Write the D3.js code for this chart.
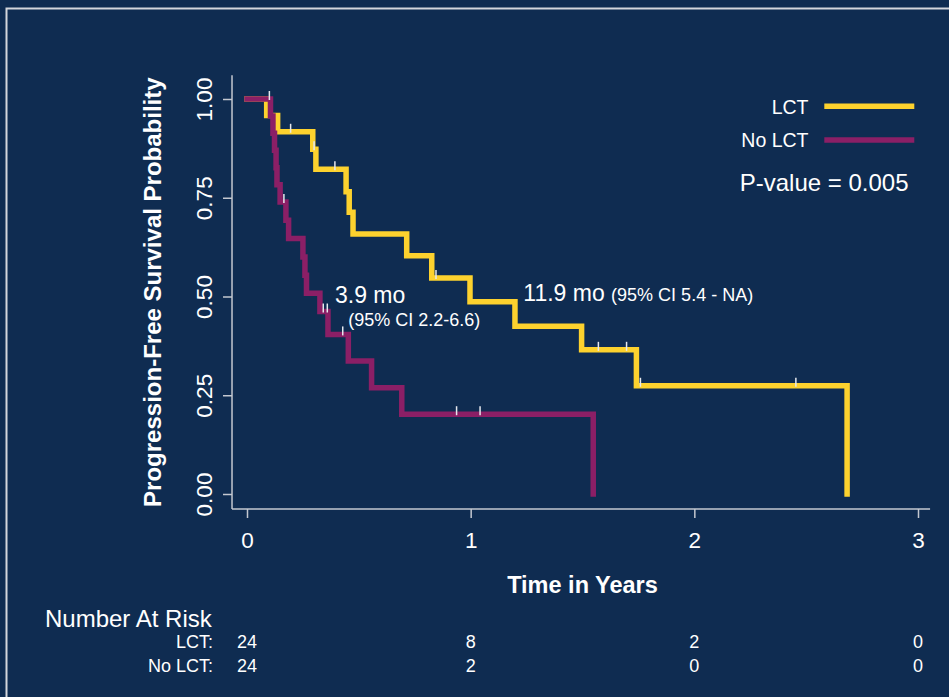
<!DOCTYPE html>
<html>
<head>
<meta charset="utf-8">
<script src="https://cdn.jsdelivr.net/npm/d3@7"></script>
<style>
  html, body { margin: 0; padding: 0; background: #0f2c51; }
  svg { display: block; }
  text { font-family: "Liberation Sans", Arial, Helvetica, sans-serif; fill: #ffffff; }
</style>
</head>
<body>
<svg id="chart" width="949" height="697"></svg>
<script>
// ---------------- DATA ----------------
const seriesNames = ["LCT", "No LCT"];

// LCT (yellow) Kaplan-Meier steps (time in years, survival probability)
const lctTimes = [0, 0.088, 0.137, 0.294, 0.308, 0.443, 0.457, 0.474, 0.714, 0.826, 0.997, 1.198, 1.496, 1.741, 2.683];
const lctSurv  = [1, 0.958, 0.917, 0.873, 0.822, 0.765, 0.713, 0.658, 0.603, 0.547, 0.487, 0.425, 0.365, 0.274, 0];
const lctCensorTimes = [0.195, 0.300, 0.393, 0.845, 1.571, 1.697, 1.759, 2.454];

// No LCT (purple)
const noLctTimes = [0, 0.105, 0.116, 0.123, 0.130, 0.134, 0.148, 0.174, 0.186, 0.250, 0.259, 0.266, 0.326, 0.362, 0.453, 0.557, 0.692, 1.548];
const noLctSurv  = [1, 0.957, 0.913, 0.870, 0.826, 0.783, 0.739, 0.693, 0.647, 0.600, 0.554, 0.508, 0.462, 0.404, 0.337, 0.269, 0.202, 0];
const noLctCensorTimes = [0.100, 0.165, 0.341, 0.359, 0.428, 0.937, 1.042];

// axes
const xTicks = [0, 1, 2, 3];
const yTicks = [0, 0.25, 0.5, 0.75, 1];

// number at risk
const riskTimes = [0, 1, 2, 3];
const riskLCT = [24, 8, 2, 0];
const riskNoLCT = [24, 2, 0, 0];

// text
const yLabel = "Progression-Free Survival Probability";
const xLabel = "Time in Years";
const pValueText = "P-value = 0.005";
const lctMedian = "11.9 mo";
const lctCI = "(95% CI 5.4 - NA)";
const noLctMedian = "3.9 mo";
const noLctCI = "(95% CI 2.2-6.6)";

// ---------------- DRAW ----------------
const colors = { "LCT": "#fdd22e", "No LCT": "#8b1f66" };
const axisColor = "#c4c8d0";

const svg = d3.select("#chart");

// background + frame
svg.append("rect").attr("x", 0).attr("y", 0).attr("width", 949).attr("height", 697).attr("fill", "#0f2c51");
svg.append("rect").attr("x", 6.5).attr("y", 8.5).attr("width", 1200).attr("height", 1200)
  .attr("fill", "none").attr("stroke", "#d4d6dc").attr("stroke-width", 2);

const x = d3.scaleLinear().domain([0, 3]).range([247, 918]);
const y = d3.scaleLinear().domain([0, 1]).range([494, 99]);

// axis lines (L shape)
const g = svg.append("g");
g.append("line").attr("x1", x(-0.067)).attr("x2", x(-0.067))
  .attr("y1", y(1.06)).attr("y2", y(-0.038))
  .attr("stroke", axisColor).attr("stroke-width", 1.5);
g.append("line").attr("x1", x(-0.067)).attr("x2", x(3.054))
  .attr("y1", y(-0.038)).attr("y2", y(-0.038))
  .attr("stroke", axisColor).attr("stroke-width", 1.5);

// y axis
const yAxis = d3.axisLeft(y).tickValues(yTicks).tickFormat(d3.format(".2f")).tickSize(9).tickPadding(0);
const yg = svg.append("g").attr("transform", `translate(${x(-0.067)},0)`).call(yAxis);
yg.select(".domain").remove();
yg.selectAll(".tick line").attr("stroke", axisColor).attr("stroke-width", 1.5);
yg.selectAll(".tick text")
  .attr("x", null).attr("dy", null)
  .attr("text-anchor", "middle")
  .attr("transform", "translate(-20,0) rotate(-90)")
  .style("font-size", "22.5px")
  .style("font-family", "'Liberation Sans', Arial, sans-serif")
  .attr("fill", "#ffffff");

// x axis
const xAxis = d3.axisBottom(x).tickValues(xTicks).tickFormat(d3.format("d")).tickSize(9).tickPadding(0);
const xg = svg.append("g").attr("transform", `translate(0,${y(-0.038)})`).call(xAxis);
xg.select(".domain").remove();
xg.selectAll(".tick line").attr("stroke", axisColor).attr("stroke-width", 1.5);
xg.selectAll(".tick text")
  .attr("y", 38.5).attr("dy", null)
  .style("font-size", "22.5px")
  .style("font-family", "'Liberation Sans', Arial, sans-serif")
  .attr("fill", "#ffffff");

// axis titles
svg.append("text")
  .attr("transform", `translate(160.5,${(y(1.06) + y(-0.038)) / 2}) rotate(-90)`)
  .attr("text-anchor", "middle")
  .style("font-size", "24px").style("font-weight", "bold")
  .text(yLabel);

svg.append("text")
  .attr("x", (x(0) + x(3)) / 2).attr("y", 593)
  .attr("text-anchor", "middle")
  .style("font-size", "23.5px").style("font-weight", "bold")
  .text(xLabel);

// KM curves
const line = d3.line().x(d => x(d[0])).y(d => y(d[1])).curve(d3.curveStepAfter);
const series = [
  { name: "LCT", times: lctTimes, surv: lctSurv, censor: lctCensorTimes },
  { name: "No LCT", times: noLctTimes, surv: noLctSurv, censor: noLctCensorTimes }
];

series.forEach(s => {
  const pts = s.times.map((t, i) => [t, s.surv[i]]);
  svg.append("path").datum(pts)
    .attr("d", line)
    .attr("fill", "none")
    .attr("stroke", colors[s.name])
    .attr("stroke-width", 5.5)
    .attr("stroke-linecap", "square")
    .attr("stroke-linejoin", "miter");
});

function survAt(times, surv, t) {
  let v = surv[0];
  for (let i = 0; i < times.length; i++) { if (times[i] <= t) v = surv[i]; }
  return v;
}

series.forEach(s => {
  svg.append("g").selectAll("line").data(s.censor).join("line")
    .attr("x1", d => x(d)).attr("x2", d => x(d))
    .attr("y1", d => y(survAt(s.times, s.surv, d)) - 8)
    .attr("y2", d => y(survAt(s.times, s.surv, d)) + 1)
    .attr("stroke", "#e6e8ee").attr("stroke-width", 1.5);
});

// legend
const legend = [
  { name: "LCT", ty: 114, ly: 106.3 },
  { name: "No LCT", ty: 146.7, ly: 140 }
];
legend.forEach(l => {
  svg.append("text").attr("x", 808.5).attr("y", l.ty).attr("text-anchor", "end")
    .style("font-size", "19.5px").text(l.name);
  svg.append("line").attr("x1", 824.3).attr("x2", 914.3).attr("y1", l.ly).attr("y2", l.ly)
    .attr("stroke", colors[l.name]).attr("stroke-width", 5.5);
});

svg.append("text").attr("x", 908.5).attr("y", 191).attr("text-anchor", "end")
  .style("font-size", "24px").text(pValueText);

// median annotations
svg.append("text").attr("x", 335).attr("y", 303.3).style("font-size", "23px").text(noLctMedian);
svg.append("text").attr("x", 348.3).attr("y", 325.5).style("font-size", "18px").text(noLctCI);

const med = svg.append("text").attr("x", 523.3).attr("y", 301);
med.append("tspan").style("font-size", "23px").text(lctMedian + " ");
med.append("tspan").style("font-size", "18px").text(lctCI);

// number at risk table
svg.append("text").attr("x", 45).attr("y", 626.7).style("font-size", "24px").text("Number At Risk");
const rows = [
  { label: "LCT:", vals: riskLCT, yy: 648 },
  { label: "No LCT:", vals: riskNoLCT, yy: 671.5 }
];
rows.forEach(r => {
  svg.append("text").attr("x", 213).attr("y", r.yy).attr("text-anchor", "end")
    .style("font-size", "18px").text(r.label);
  svg.append("g").selectAll("text").data(riskTimes).join("text")
    .attr("x", d => x(d)).attr("y", r.yy).attr("text-anchor", "middle")
    .style("font-size", "18px")
    .text((d, i) => r.vals[i]);
});
</script>
</body>
</html>
